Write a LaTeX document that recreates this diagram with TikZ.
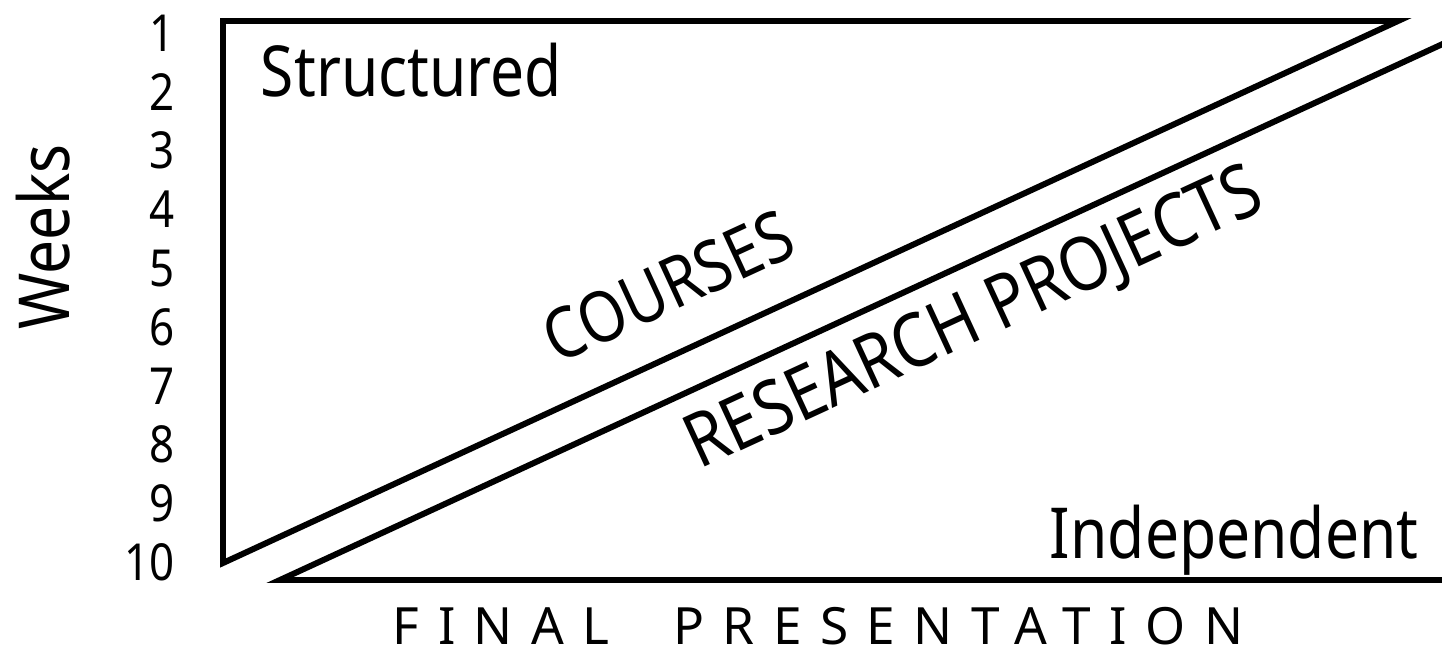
\documentclass[tikz,border=0pt]{standalone}
\usepackage{fontspec}
\setmainfont{Noto Sans}[FakeStretch=0.86]
\newfontfamily\spacedfont{Noto Sans}[LetterSpace=36]
\usepackage{tikz}

\tikzset{
  big/.style = {font = \fontsize{20}{24}\selectfont, inner sep = 0pt},
  week/.style = {font = \fontsize{14.5}{17}\selectfont, inner sep = 0pt, anchor = east}
}

\begin{document}
\begin{tikzpicture}[x = 0.01cm, y = -0.01cm, line width = 1.7pt]
\useasboundingbox (0,0) rectangle (1442,649);
\coordinate (c1) at (223,21);
\coordinate (c2) at (1398,21);
\coordinate (c3) at (223,563);
\coordinate (r1) at (280,580);
\coordinate (r2) at (1460,36);
\coordinate (r3) at (1460,580);
\draw (c2) -- (c1) -- (c3) -- cycle;
\draw (r2) -- (r1) -- (r3);
% week numbers
\foreach \i in {1,...,10}
    \node[week] (w\i) at (178, {33 + (\i-1)*58.8}) {\i};
\node[big, rotate = 90] (weeks) at (43,237) {Weeks};
\node[big, anchor = base west] (st) at (258,97) {Structured};
\node[big, anchor = base west] (ind) at (1047,558) {Independent};
\node[big, rotate = 24.75] (cou) at (668,286) {COURSES};
\node[big, rotate = 24.75, font = \fontsize{21.2}{25}\selectfont] (res) at (975,321) {RESEARCH PROJECTS};
\node[inner sep = 0pt, anchor = base, font = \spacedfont\fontsize{14.6}{17}\selectfont] (fin) at (818,645) {FINAL\ \ PRESENTATION};
\end{tikzpicture}
\end{document}
